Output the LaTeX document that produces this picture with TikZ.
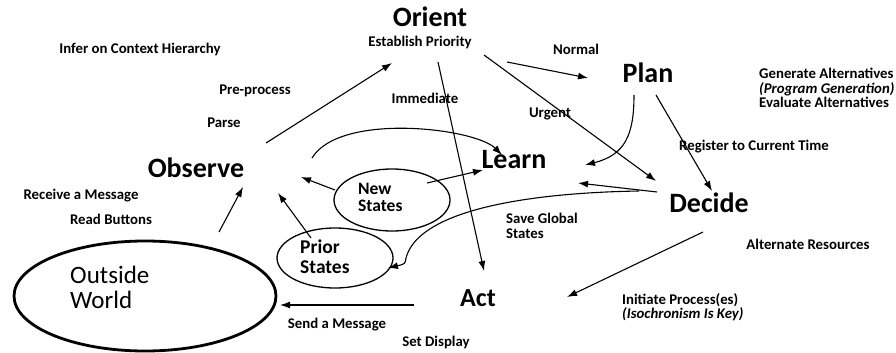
\documentclass[tikz,border=0pt]{standalone}
\usepackage{fontspec}
\setmainfont{Carlito}
\usetikzlibrary{arrows.meta,calc,shapes.geometric}

\begin{document}
\begin{tikzpicture}[x=1pt, y=-1pt,
  phase/.style={font=\bfseries\fontsize{28}{30}\selectfont, inner sep=0},
  note/.style={font=\bfseries\fontsize{14.8}{14.5}\selectfont, inner sep=0, align=left},
  pool/.style={draw, ellipse, line width=1.3, minimum width=116, minimum height=62, inner sep=0},
  flow/.style={-{Latex[length=10,width=7]}, line width=1.1}]
\useasboundingbox (0,0) rectangle (896,353);

\node [phase] (orient) at (430,17) {Orient};
\node [phase] (plan) at (648,73) {Plan};
\node [phase] (decide) at (709,203) {Decide};
\node [phase, font=\bfseries\fontsize{26}{28}\selectfont] (act) at (478,298) {Act};
\node [phase] (observe) at (196,168) {Observe};
\node [phase] (learn) at (514,160) {Learn};

\node [draw, ellipse, line width=2.8, minimum width=262, minimum height=110] (world) at (145,296) {};
\node [anchor=west, align=left, inner sep=0, font=\fontsize{25}{25}\selectfont] (worldtxt) at (70,287) {Outside\\World};
\node [pool] (newst) at (392,200) {};
\node [anchor=west, align=left, inner sep=0, font=\bfseries\fontsize{17.5}{17}\selectfont] (newtxt) at (358,197) {New\\States};
\node [pool, minimum height=60] (prior) at (335,258) {};
\node [anchor=west, align=left, inner sep=0, font=\bfseries\fontsize{19.5}{20}\selectfont] (priortxt) at (300,257) {Prior\\States};

\node [note] (infer) at (140,49) {Infer on Context Hierarchy};
\node [note] (prio) at (420,42) {Establish Priority};
\node [note] (normal) at (576,49) {Normal};
\node [note] (prep) at (255,91) {Pre-process};
\node [note] (immed) at (425,98) {Immediate};
\node [note] (urgent) at (550,114) {Urgent};
\node [note] (parse) at (224,123) {Parse};
\node [note] (regtime) at (754,147) {Register to Current Time};
\node [note] (recv) at (81,196) {Receive a Message};
\node [note] (buttons) at (111,219) {Read Buttons};
\node [note, anchor=west] (altgen) at (759,88) {Generate Alternatives\\\textit{(Program Generation)}\\Evaluate Alternatives};
\node [note, anchor=west] (save) at (506,226) {Save Global\\States};
\node [note] (altres) at (808,244) {Alternate Resources};
\node [note, anchor=west] (init) at (622,307) {Initiate Process(es)\\\textit{(Isochronism Is Key)}};
\node [note] (send) at (337,325) {Send a Message};
\node [note] (display) at (436,342) {Set Display};

\draw [flow] ($(observe)+(70,-25)$) -- ($(orient)+(-38,46)$);
\draw [flow] ($(orient)+(77,45)$) -- ($(plan)+(-60,5)$);
\draw [flow] ($(orient)+(54,38)$) -- ($(decide)+(-53,-22)$);
\draw [flow] ($(orient)+(8,45)$) -- ($(act)+(6,-27)$);
\draw [flow] ($(plan)+(-14,22)$) .. controls ($(plan)+(-14,62)$) and ($(plan)+(-23,82)$) .. ($(learn)+(71,5)$);
\draw [flow] ($(plan)+(8,22)$) -- ($(decide)+(3,-12)$);
\draw [flow] ($(decide)+(-52,-11)$) -- ($(learn)+(64,23)$);
\draw [flow] ($(decide)+(-70,-12)$) .. controls (520,193) and (418,212) .. (406,258) .. controls (405,264) .. ($(prior)+(53,10)$);
\draw [flow] ($(observe)+(116,-10)$) .. controls (340,112) and (475,128) .. ($(learn)+(-12,-5)$);
\draw [flow] ($(newst)+(35,-17)$) -- ($(learn)+(-31,10)$);
\draw [flow] ($(newst)+(-57,-10)$) -- ($(observe)+(105,9)$);
\draw [flow] ($(prior)+(-24,-20)$) -- ($(observe)+(82,25)$);
\draw [flow] ($(world)+(74,-64)$) -- ($(observe)+(47,19)$);
\draw [flow] ($(act)+(-64,7)$) -- ($(world)+(135,9)$);
\draw [flow] ($(decide)+(-6,29)$) -- ($(act)+(89,-1)$);
\end{tikzpicture}
\end{document}
